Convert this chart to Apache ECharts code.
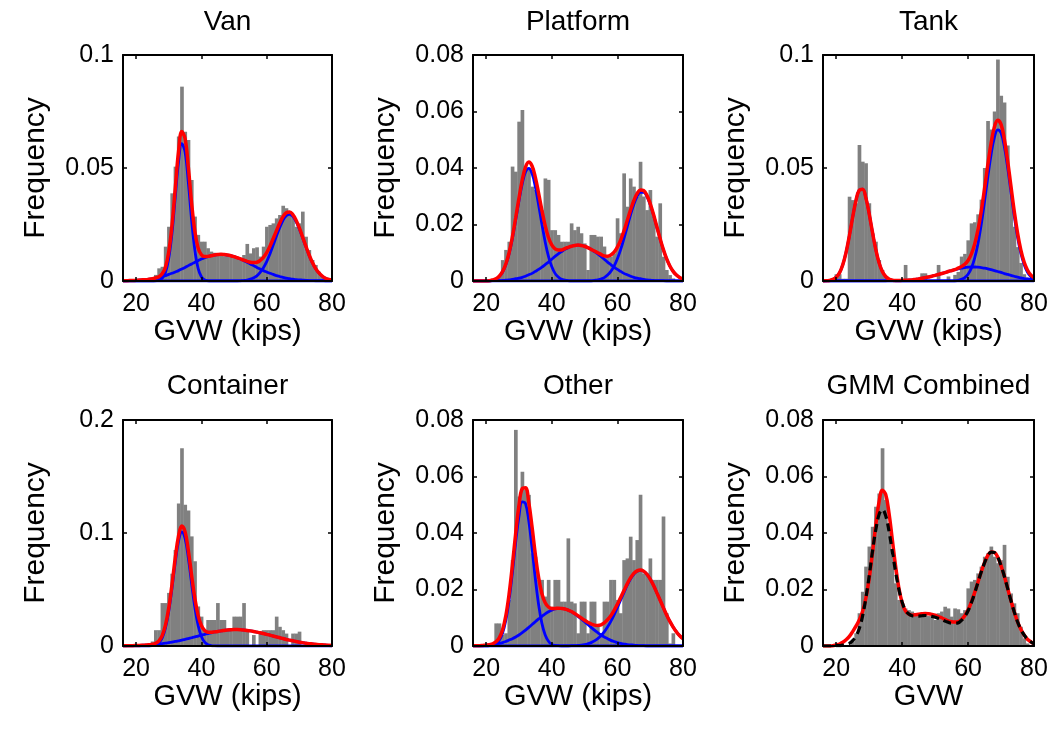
<!DOCTYPE html>
<html>
<head>
<meta charset="utf-8">
<script src="https://cdn.jsdelivr.net/npm/echarts@6/dist/echarts.min.js"></script>
<style>
  html, body { margin: 0; padding: 0; background: #fff; }
  #chart { width: 1055px; height: 729px; }
</style>
</head>
<body>
<div id="chart"></div>
<script>
// GVW axis range shared by every panel (kips)
const GVW_MIN = 16;
const GVW_MAX = 80;
const GVW_TICKS = [20, 40, 60, 80];

// ---- Histogram frequencies, one value per 1-kip bin, first bin centred at 20 kips ----
const HIST_START = 20;
const VAN_HIST = [
  0, 0, 0, 0.0003, 0.0007, 0.0012, 0.0027, 0.0056, 0.0063, 0.0152,
  0.024, 0.0388, 0.0506, 0.0639, 0.086, 0.066, 0.0624, 0.0447, 0.0285, 0.0204,
  0.0174, 0.0174, 0.0145, 0.013, 0.0125, 0.0122, 0.0115, 0.011, 0.0118, 0.0108,
  0.0105, 0.01, 0.0093, 0.0115, 0.0164, 0.0122, 0.0145, 0.0149, 0.0108, 0.0152,
  0.024, 0.0248, 0.0255, 0.0277, 0.0292, 0.0333, 0.0322, 0.03, 0.0285, 0.024,
  0.0255, 0.0307, 0.0196, 0.0137, 0.0093, 0.0071, 0.0041, 0.0022, 0.0012, 0.0004
];
const PLATFORM_HIST = [
  0, 0, 0, 0.0005, 0.0015, 0.0074, 0.011, 0.0139, 0.0405, 0.0387,
  0.0564, 0.0605, 0.0393, 0.0393, 0.0334, 0.0322, 0.0287, 0.0251, 0.0363, 0.0358,
  0.018, 0.018, 0.0163, 0.0139, 0.0139, 0.0139, 0.0204, 0.018, 0.0192, 0.0169,
  0.0133, 0.0039, 0.0163, 0.0163, 0.0157, 0.0157, 0.0122, 0.0086, 0.0086, 0.0098,
  0.0222, 0.0169, 0.0381, 0.0263, 0.0363, 0.0334, 0.0299, 0.0422, 0.0299, 0.0251,
  0.0322, 0.0228, 0.0157, 0.0275, 0.0086, 0.0039, 0.0021, 0.0009, 0, 0
];
const TANK_HIST = [
  0.003, 0.003, 0.001, 0.001, 0.0373, 0.0358, 0.0344, 0.0602, 0.0528, 0.0521,
  0.0344, 0.0211, 0.0174, 0.0093, 0.0049, 0.0019, 0.0005, 0, 0, 0,
  0, 0.0071, 0, 0, 0, 0, 0.0034, 0.0034, 0, 0,
  0, 0.0071, 0, 0, 0.002, 0, 0.0027, 0.004, 0.0108, 0.012,
  0.018, 0.0255, 0.026, 0.0295, 0.036, 0.05, 0.0708, 0.067, 0.075, 0.098,
  0.082, 0.079, 0.06, 0.04, 0.024, 0.015, 0.008, 0.003, 0.0015, 0
];
const CONTAINER_HIST = [
  0, 0, 0, 0, 0, 0.004, 0.014, 0.014, 0.038, 0.038,
  0.047, 0.064, 0.085, 0.126, 0.175, 0.125, 0.12, 0.097, 0.075, 0.035,
  0.026, 0.014, 0.023, 0.023, 0.023, 0.038, 0.023, 0.023, 0.014, 0.014,
  0.026, 0.026, 0.026, 0.038, 0.014, 0, 0.0097, 0, 0.0127, 0.014,
  0.014, 0.014, 0.014, 0.026, 0.017, 0.014, 0.011, 0, 0.011, 0.011,
  0.0127, 0, 0, 0, 0, 0, 0, 0, 0, 0
];
const OTHER_HIST = [
  0, 0, 0, 0.008, 0.008, 0.0039, 0.0045, 0.0163, 0.0304, 0.0765,
  0.0529, 0.0617, 0.0552, 0.0535, 0.0328, 0.0316, 0.0234, 0.0234, 0.0175, 0.0234,
  0.0139, 0.0234, 0.0234, 0.0157, 0.0157, 0.0381, 0.0157, 0.0151, 0.0045, 0.0157,
  0.0157, 0.0045, 0.0157, 0.0157, 0.0068, 0.0045, 0.0157, 0.0157, 0.0234, 0.0234,
  0.0163, 0.0116, 0.0304, 0.031, 0.0387, 0.0304, 0.0375, 0.0535, 0.0257, 0.0257,
  0.031, 0.0234, 0.0234, 0.0234, 0.0458, 0.0116, 0.0009, 0.0045, 0.0004, 0
];
const ALL_HIST = [
  0, 0, 0, 0.0002, 0.0004, 0.0015, 0.0045, 0.0116, 0.0192, 0.0281,
  0.0352, 0.0422, 0.0493, 0.054, 0.07, 0.0517, 0.0422, 0.0316, 0.0222, 0.0163,
  0.0145, 0.0133, 0.0127, 0.0122, 0.0116, 0.0116, 0.0118, 0.011, 0.0106, 0.0106,
  0.0092, 0.0116, 0.0122, 0.0139, 0.0133, 0.0104, 0.0133, 0.013, 0.0116, 0.0127,
  0.0204, 0.0228, 0.0234, 0.0257, 0.0281, 0.0316, 0.0328, 0.0352, 0.0316, 0.0293,
  0.0304, 0.0358, 0.0245, 0.0186, 0.0151, 0.0116, 0.0068, 0.0027, 0.0009, 0
];

// ---- Fitted mixture densities, sampled every kip from 16 to 80 ----
const VAN_FIT = [
  0.0001, 0.0001, 0.0002, 0.0002,
  0.0003, 0.0004, 0.0005, 0.0006, 0.0008, 0.0010, 0.0014, 0.0019, 0.0032, 0.0061,
  0.0128, 0.0246, 0.0410, 0.0572, 0.0661, 0.0631, 0.0505, 0.0346, 0.0220, 0.0146,
  0.0116, 0.0108, 0.0109, 0.0112, 0.0115, 0.0117, 0.0118, 0.0117, 0.0115, 0.0112,
  0.0108, 0.0103, 0.0098, 0.0092, 0.0087, 0.0083, 0.0082, 0.0083, 0.0091, 0.0105,
  0.0126, 0.0154, 0.0188, 0.0223, 0.0257, 0.0285, 0.0302, 0.0305, 0.0294, 0.0269,
  0.0235, 0.0195, 0.0154, 0.0115, 0.0082, 0.0055, 0.0036, 0.0022, 0.0012, 0.0007,
  0.0004
];
const PLATFORM_FIT = [
  0, 0, 0, 0,
  0, 0.0001, 0.0004, 0.0008, 0.0017, 0.0033, 0.0060, 0.0100, 0.0156, 0.0223,
  0.0293, 0.0357, 0.0403, 0.0421, 0.0407, 0.0367, 0.0310, 0.0250, 0.0196, 0.0154,
  0.0128, 0.0114, 0.0110, 0.0110, 0.0115, 0.0119, 0.0123, 0.0126, 0.0127, 0.0126,
  0.0123, 0.0118, 0.0112, 0.0106, 0.0100, 0.0094, 0.0089, 0.0088, 0.0092, 0.0102,
  0.0120, 0.0145, 0.0177, 0.0214, 0.0251, 0.0284, 0.0309, 0.0322, 0.0320, 0.0303,
  0.0274, 0.0236, 0.0193, 0.0151, 0.0112, 0.0079, 0.0053, 0.0034, 0.0021, 0.0012,
  0.0007
];
const TANK_FIT = [
  0, 0.0001, 0.0002, 0.0007,
  0.0017, 0.0036, 0.0072, 0.0127, 0.0200, 0.0282, 0.0356, 0.0402, 0.0406, 0.0368,
  0.0298, 0.0216, 0.0140, 0.0081, 0.0042, 0.0020, 0.0009, 0.0004, 0.0002, 0.0002,
  0.0003, 0.0003, 0.0004, 0.0005, 0.0007, 0.0009, 0.0012, 0.0015, 0.0018, 0.0021,
  0.0025, 0.0029, 0.0033, 0.0037, 0.0042, 0.0046, 0.0050, 0.0057, 0.0064, 0.0074,
  0.0091, 0.0119, 0.0163, 0.0226, 0.0309, 0.0409, 0.0515, 0.0611, 0.0682, 0.0711,
  0.0693, 0.0628, 0.0532, 0.0420, 0.0310, 0.0213, 0.0138, 0.0084, 0.0049, 0.0027,
  0.0015
];
const CONTAINER_FIT = [
  0.0002, 0.0002, 0.0003, 0.0003,
  0.0004, 0.0005, 0.0007, 0.0008, 0.0011, 0.0015, 0.0024, 0.0046, 0.0092, 0.0184,
  0.0335, 0.0545, 0.0778, 0.0973, 0.1061, 0.1012, 0.0847, 0.0628, 0.0422, 0.0271,
  0.0181, 0.0137, 0.0122, 0.0121, 0.0125, 0.0129, 0.0134, 0.0138, 0.0142, 0.0144,
  0.0145, 0.0145, 0.0144, 0.0141, 0.0138, 0.0134, 0.0129, 0.0123, 0.0117, 0.0110,
  0.0103, 0.0096, 0.0088, 0.0081, 0.0073, 0.0066, 0.0058, 0.0052, 0.0046, 0.0040,
  0.0034, 0.0030, 0.0025, 0.0021, 0.0018, 0.0015, 0.0012, 0.0010, 0.0008, 0.0006,
  0.0005
];
const OTHER_FIT = [
  0.0001, 0.0001, 0.0001, 0.0002,
  0.0003, 0.0005, 0.0008, 0.0015, 0.0029, 0.0057, 0.0107, 0.0184, 0.0285, 0.0398,
  0.0497, 0.0557, 0.0560, 0.0508, 0.0421, 0.0324, 0.0242, 0.0185, 0.0153, 0.0138,
  0.0133, 0.0133, 0.0134, 0.0133, 0.0131, 0.0127, 0.0122, 0.0115, 0.0107, 0.0099,
  0.0091, 0.0084, 0.0078, 0.0074, 0.0073, 0.0075, 0.0082, 0.0093, 0.0107, 0.0126,
  0.0148, 0.0172, 0.0196, 0.0220, 0.0241, 0.0257, 0.0266, 0.0269, 0.0265, 0.0254,
  0.0237, 0.0215, 0.0189, 0.0163, 0.0136, 0.0110, 0.0087, 0.0067, 0.0050, 0.0036,
  0.0026
];
// combined panel: sum of the per-type fits (red) and a single GMM on all trucks (dashed)
const ALL_FIT = [
  0, 0, 0, 0.0001,
  0.0004, 0.0007, 0.0013, 0.0022, 0.0034, 0.0051, 0.0070, 0.0092, 0.0122, 0.0169,
  0.0238, 0.0329, 0.0427, 0.0510, 0.0551, 0.0537, 0.0472, 0.0379, 0.0284, 0.0206,
  0.0153, 0.0124, 0.0113, 0.0109, 0.0111, 0.0112, 0.0114, 0.0115, 0.0114, 0.0112,
  0.0109, 0.0104, 0.0100, 0.0094, 0.0089, 0.0086, 0.0085, 0.0086, 0.0094, 0.0107,
  0.0127, 0.0155, 0.0189, 0.0226, 0.0263, 0.0295, 0.0321, 0.0333, 0.0331, 0.0315,
  0.0284, 0.0247, 0.0204, 0.0161, 0.0121, 0.0086, 0.0059, 0.0039, 0.0024, 0.0015,
  0.0008
];
const ALL_GMM = [
  0, 0, 0, 0,
  0.0001, 0.0001, 0.0003, 0.0005, 0.0009, 0.0019, 0.0035, 0.0062, 0.0106, 0.0169,
  0.0247, 0.0334, 0.0410, 0.0465, 0.0483, 0.0462, 0.0408, 0.0336, 0.0264, 0.0201,
  0.0156, 0.0127, 0.0113, 0.0107, 0.0106, 0.0106, 0.0107, 0.0108, 0.0107, 0.0105,
  0.0102, 0.0098, 0.0094, 0.0088, 0.0084, 0.0081, 0.0081, 0.0082, 0.0091, 0.0104,
  0.0125, 0.0153, 0.0187, 0.0225, 0.0262, 0.0294, 0.0320, 0.0332, 0.0331, 0.0315,
  0.0284, 0.0247, 0.0204, 0.0161, 0.0121, 0.0086, 0.0059, 0.0039, 0.0024, 0.0015,
  0.0008
];

// ---- Individual mixture components (start kip, then one value per kip) ----
const VAN_C1_START = 20;
const VAN_C1 = [
  0, 0, 0, 0, 0, 0, 0.0001, 0.0003, 0.0012, 0.0037,
  0.0099, 0.0212, 0.0370, 0.0526, 0.0608, 0.0571, 0.0437, 0.0271, 0.0137, 0.0056,
  0.0019, 0.0005, 0.0001, 0, 0
];
const VAN_C2_START = 16;
const VAN_C2 = [
  0.0001, 0.0001, 0.0002, 0.0002,
  0.0003, 0.0004, 0.0005, 0.0006, 0.0008, 0.0010, 0.0013, 0.0016, 0.0020, 0.0024,
  0.0029, 0.0034, 0.0040, 0.0046, 0.0053, 0.0060, 0.0068, 0.0075, 0.0083, 0.0090,
  0.0097, 0.0103, 0.0108, 0.0112, 0.0115, 0.0117, 0.0118, 0.0117, 0.0115, 0.0112,
  0.0108, 0.0103, 0.0097, 0.0090, 0.0083, 0.0075, 0.0068, 0.0060, 0.0053, 0.0046,
  0.0040, 0.0034, 0.0029, 0.0024, 0.0020, 0.0016, 0.0013, 0.0010, 0.0008, 0.0006,
  0.0005, 0.0004, 0.0003, 0.0002, 0.0002, 0.0001, 0.0001, 0.0001, 0, 0,
  0
];
const VAN_C3_START = 50;
const VAN_C3 = [
  0, 0, 0.0001, 0.0002, 0.0004, 0.0008, 0.0014, 0.0023, 0.0038, 0.0059,
  0.0086, 0.0120, 0.0159, 0.0199, 0.0237, 0.0269, 0.0289, 0.0295, 0.0286, 0.0263,
  0.0230, 0.0191, 0.0151, 0.0113, 0.0080, 0.0054, 0.0035, 0.0021, 0.0012, 0.0007,
  0.0004
];

const PLATFORM_C1_START = 20;
const PLATFORM_C1 = [
  0, 0, 0.0003, 0.0007, 0.0016, 0.0031, 0.0057, 0.0096, 0.0150, 0.0215,
  0.0283, 0.0344, 0.0386, 0.0399, 0.0380, 0.0333, 0.0269, 0.0201, 0.0138, 0.0087,
  0.0051, 0.0027, 0.0014, 0.0006, 0.0003, 0.0001, 0
];
const PLATFORM_C2_START = 20;
const PLATFORM_C2 = [
  0, 0, 0.0001, 0.0001, 0.0001, 0.0002, 0.0003, 0.0004, 0.0006, 0.0008,
  0.0010, 0.0013, 0.0017, 0.0022, 0.0027, 0.0034, 0.0041, 0.0049, 0.0058, 0.0067,
  0.0077, 0.0087, 0.0096, 0.0104, 0.0112, 0.0118, 0.0123, 0.0126, 0.0127, 0.0126,
  0.0123, 0.0118, 0.0112, 0.0104, 0.0096, 0.0087, 0.0077, 0.0067, 0.0058, 0.0049,
  0.0041, 0.0034, 0.0027, 0.0022, 0.0017, 0.0013, 0.0010, 0.0008, 0.0006, 0.0004,
  0.0003, 0.0002, 0.0001, 0.0001, 0.0001, 0
];
const PLATFORM_C3_START = 50;
const PLATFORM_C3 = [
  0, 0, 0, 0.0002, 0.0004, 0.0007, 0.0012, 0.0021, 0.0034, 0.0053,
  0.0079, 0.0111, 0.0150, 0.0192, 0.0234, 0.0271, 0.0299, 0.0314, 0.0314, 0.0299,
  0.0271, 0.0234, 0.0192, 0.0150, 0.0111, 0.0079, 0.0053, 0.0034, 0.0021, 0.0012,
  0.0007
];

const TANK_C1_START = 16;
const TANK_C1 = [
  0, 0.0001, 0.0002, 0.0007,
  0.0017, 0.0036, 0.0072, 0.0127, 0.0200, 0.0282, 0.0356, 0.0402, 0.0406, 0.0368,
  0.0298, 0.0216, 0.0140, 0.0081, 0.0042, 0.0020, 0.0008, 0.0003, 0.0001, 0
];
const TANK_C2_START = 30;
const TANK_C2 = [
  0, 0, 0, 0, 0, 0, 0.0001, 0.0001, 0.0001, 0.0002,
  0.0003, 0.0003, 0.0004, 0.0005, 0.0007, 0.0009, 0.0012, 0.0015, 0.0018, 0.0021,
  0.0025, 0.0029, 0.0033, 0.0037, 0.0042, 0.0046, 0.0050, 0.0054, 0.0057, 0.0059,
  0.0061, 0.0062, 0.0062, 0.0061, 0.0059, 0.0057, 0.0054, 0.0050, 0.0046, 0.0042,
  0.0038, 0.0033, 0.0029, 0.0025, 0.0021, 0.0017, 0.0014, 0.0011, 0.0009, 0.0007,
  0.0006
];
const TANK_C3_START = 50;
const TANK_C3 = [
  0, 0, 0, 0, 0, 0, 0, 0.0003, 0.0007, 0.0015,
  0.0030, 0.0057, 0.0101, 0.0165, 0.0250, 0.0352, 0.0461, 0.0561, 0.0636, 0.0669,
  0.0655, 0.0595, 0.0503, 0.0395, 0.0289, 0.0196, 0.0124, 0.0073, 0.0040, 0.0020,
  0.0009
];

const CONTAINER_C1_START = 20;
const CONTAINER_C1 = [
  0, 0, 0, 0, 0, 0.0003, 0.0009, 0.0028, 0.0071, 0.0159,
  0.0305, 0.0510, 0.0738, 0.0927, 0.1009, 0.0953, 0.0781, 0.0555, 0.0342, 0.0183,
  0.0085, 0.0034, 0.0012, 0.0004, 0.0001, 0
];
const CONTAINER_C2_START = 16;
const CONTAINER_C2 = [
  0.0002, 0.0002, 0.0003, 0.0003,
  0.0004, 0.0005, 0.0007, 0.0008, 0.0010, 0.0012, 0.0015, 0.0018, 0.0021, 0.0025,
  0.0030, 0.0035, 0.0040, 0.0046, 0.0052, 0.0059, 0.0066, 0.0073, 0.0080, 0.0088,
  0.0096, 0.0103, 0.0110, 0.0117, 0.0124, 0.0129, 0.0134, 0.0138, 0.0142, 0.0144,
  0.0145, 0.0145, 0.0144, 0.0141, 0.0138, 0.0134, 0.0129, 0.0123, 0.0117, 0.0110,
  0.0103, 0.0096, 0.0088, 0.0081, 0.0073, 0.0066, 0.0058, 0.0052, 0.0046, 0.0040,
  0.0034, 0.0030, 0.0025, 0.0021, 0.0018, 0.0015, 0.0012, 0.0010, 0.0008, 0.0006,
  0.0005
];

const OTHER_C1_START = 20;
const OTHER_C1 = [
  0, 0.0001, 0.0003, 0.0008, 0.0020, 0.0045, 0.0091, 0.0163, 0.0259, 0.0366,
  0.0458, 0.0510, 0.0504, 0.0442, 0.0345, 0.0238, 0.0146, 0.0080, 0.0039, 0.0017,
  0.0006, 0.0002, 0.0001, 0
];
const OTHER_C2_START = 16;
const OTHER_C2 = [
  0.0001, 0.0001, 0.0001, 0.0002,
  0.0003, 0.0004, 0.0005, 0.0007, 0.0009, 0.0012, 0.0016, 0.0021, 0.0026, 0.0032,
  0.0039, 0.0047, 0.0056, 0.0066, 0.0076, 0.0086, 0.0096, 0.0105, 0.0114, 0.0121,
  0.0127, 0.0131, 0.0133, 0.0133, 0.0131, 0.0127, 0.0121, 0.0114, 0.0105, 0.0096,
  0.0086, 0.0076, 0.0066, 0.0056, 0.0047, 0.0039, 0.0032, 0.0026, 0.0020, 0.0016,
  0.0012, 0.0009, 0.0007, 0.0005, 0.0004, 0.0003, 0.0002, 0.0001, 0.0001, 0,
  0
];
const OTHER_C3_START = 40;
const OTHER_C3 = [
  0, 0, 0, 0, 0, 0, 0.0001, 0.0001, 0.0002, 0.0003,
  0.0005, 0.0008, 0.0012, 0.0018, 0.0026, 0.0036, 0.0050, 0.0067, 0.0087, 0.0110,
  0.0136, 0.0163, 0.0189, 0.0215, 0.0237, 0.0254, 0.0264, 0.0268, 0.0264, 0.0254,
  0.0237, 0.0215, 0.0189, 0.0163, 0.0136, 0.0110, 0.0087, 0.0067, 0.0050, 0.0036,
  0.0026
];

// ---- Panel definitions ----
const PANELS = [
  { title: 'Van', xName: 'GVW (kips)', yMax: 0.1, yStep: 0.05, hist: VAN_HIST, fit: VAN_FIT,
    comps: [[VAN_C1_START, VAN_C1], [VAN_C2_START, VAN_C2], [VAN_C3_START, VAN_C3]] },
  { title: 'Platform', xName: 'GVW (kips)', yMax: 0.08, yStep: 0.02, hist: PLATFORM_HIST, fit: PLATFORM_FIT,
    comps: [[PLATFORM_C1_START, PLATFORM_C1], [PLATFORM_C2_START, PLATFORM_C2], [PLATFORM_C3_START, PLATFORM_C3]] },
  { title: 'Tank', xName: 'GVW (kips)', yMax: 0.1, yStep: 0.05, hist: TANK_HIST, fit: TANK_FIT,
    comps: [[TANK_C1_START, TANK_C1], [TANK_C2_START, TANK_C2], [TANK_C3_START, TANK_C3]] },
  { title: 'Container', xName: 'GVW (kips)', yMax: 0.2, yStep: 0.1, hist: CONTAINER_HIST, fit: CONTAINER_FIT,
    comps: [[CONTAINER_C1_START, CONTAINER_C1], [CONTAINER_C2_START, CONTAINER_C2]] },
  { title: 'Other', xName: 'GVW (kips)', yMax: 0.08, yStep: 0.02, hist: OTHER_HIST, fit: OTHER_FIT,
    comps: [[OTHER_C1_START, OTHER_C1], [OTHER_C2_START, OTHER_C2], [OTHER_C3_START, OTHER_C3]] },
  { title: 'GMM Combined', xName: 'GVW', yMax: 0.08, yStep: 0.02, hist: ALL_HIST, fit: ALL_FIT,
    comps: [], gmm: ALL_GMM }
];

// ---- Layout and style ----
const COL_LEFT = [123, 473, 823];
const COL_WIDTH = [209, 210, 211];
const ROW_TOP = [55, 420];
const PLOT_H = 226;
const TITLE_TOP = [8, 372];
const FONT = '"Liberation Sans", Arial, Helvetica, sans-serif';
const GRAY = '#808080';
const RED = '#ff0000';
const BLUE = '#0000ff';

function curvePoints(start, ys) {
  const pts = ys.map((y, i) => [start + i, y]);
  if (start > GVW_MIN) pts.unshift([GVW_MIN, 0]);
  if (start + ys.length - 1 < GVW_MAX) pts.push([GVW_MAX, 0]);
  return pts;
}

function binPoints(ys) {
  return ys.map((y, i) => [HIST_START + i, y]);
}

function drawBin(params, api) {
  const x = api.value(0), h = api.value(1);
  if (!h) return null;
  const a = api.coord([x - 0.5, h]);
  const b = api.coord([x + 0.5, 0]);
  return {
    type: 'rect',
    shape: { x: a[0], y: a[1], width: b[0] - a[0] + 0.4, height: b[1] - a[1] },
    style: { fill: GRAY }
  };
}

function lineSeries(axis, data, color, width, dash, z) {
  return {
    type: 'line', xAxisIndex: axis, yAxisIndex: axis, data: data,
    showSymbol: false, symbol: 'none', smooth: 0.4, z: z, silent: true,
    lineStyle: { color: color, width: width, type: dash }
  };
}

const grids = [], xAxes = [], yAxes = [], titles = [], series = [];

PANELS.forEach((p, i) => {
  const row = Math.floor(i / 3), col = i % 3;
  const left = COL_LEFT[col], width = COL_WIDTH[col], top = ROW_TOP[row];
  grids.push({ left: left, top: top, width: width, height: PLOT_H });

  titles.push({
    text: p.title, left: left + width / 2, top: TITLE_TOP[row], textAlign: 'center', padding: 0,
    textStyle: { fontFamily: FONT, fontSize: 28, fontWeight: 'normal', color: '#000' }
  });

  const frame = { show: true, onZero: false, lineStyle: { color: '#000', width: 2 } };
  const tick = { show: true, inside: true, length: 4, lineStyle: { color: '#000', width: 1.5 } };
  const tickFont = { fontFamily: FONT, fontSize: 25, color: '#000' };
  const nameFont = { fontFamily: FONT, fontSize: 29, color: '#000' };

  xAxes.push({
    type: 'value', gridIndex: i, position: 'bottom', min: GVW_MIN, max: GVW_MAX, z: 10,
    axisLine: frame, axisTick: Object.assign({ customValues: GVW_TICKS }, tick),
    axisLabel: Object.assign({ customValues: GVW_TICKS, margin: 11 }, tickFont),
    splitLine: { show: false },
    name: p.xName, nameLocation: 'middle', nameGap: 33, nameTextStyle: nameFont
  });
  xAxes.push({
    type: 'value', gridIndex: i, position: 'top', min: GVW_MIN, max: GVW_MAX, z: 10,
    axisLine: frame, axisTick: Object.assign({ customValues: GVW_TICKS }, tick),
    axisLabel: { show: false }, splitLine: { show: false }
  });
  yAxes.push({
    type: 'value', gridIndex: i, position: 'left', min: 0, max: p.yMax, interval: p.yStep, z: 10,
    axisLine: frame, axisTick: tick,
    axisLabel: Object.assign({ margin: 9 }, tickFont),
    splitLine: { show: false },
    name: 'Frequency', nameLocation: 'middle', nameGap: 72,
    nameTextStyle: Object.assign({}, nameFont, { fontSize: 30 })
  });
  yAxes.push({
    type: 'value', gridIndex: i, position: 'right', min: 0, max: p.yMax, interval: p.yStep, z: 10,
    axisLine: frame, axisTick: tick, axisLabel: { show: false }, splitLine: { show: false }
  });

  const ax = 2 * i;
  series.push({
    type: 'custom', xAxisIndex: ax, yAxisIndex: ax, renderItem: drawBin,
    data: binPoints(p.hist), encode: { x: 0, y: 1 }, z: 1, silent: true
  });
  p.comps.forEach(c => series.push(lineSeries(ax, curvePoints(c[0], c[1]), BLUE, 2.8, 'solid', 2)));
  series.push(lineSeries(ax, curvePoints(GVW_MIN, p.fit), RED, 3.5, 'solid', 3));
  if (p.gmm) series.push(lineSeries(ax, curvePoints(GVW_MIN, p.gmm), '#000', 3.2, [8, 5], 4));
});

const chart = echarts.init(document.getElementById('chart'), null, { width: 1055, height: 729 });
chart.setOption({
  backgroundColor: '#fff',
  animation: false,
  title: titles,
  grid: grids,
  xAxis: xAxes,
  yAxis: yAxes,
  series: series
});
</script>
</body>
</html>
